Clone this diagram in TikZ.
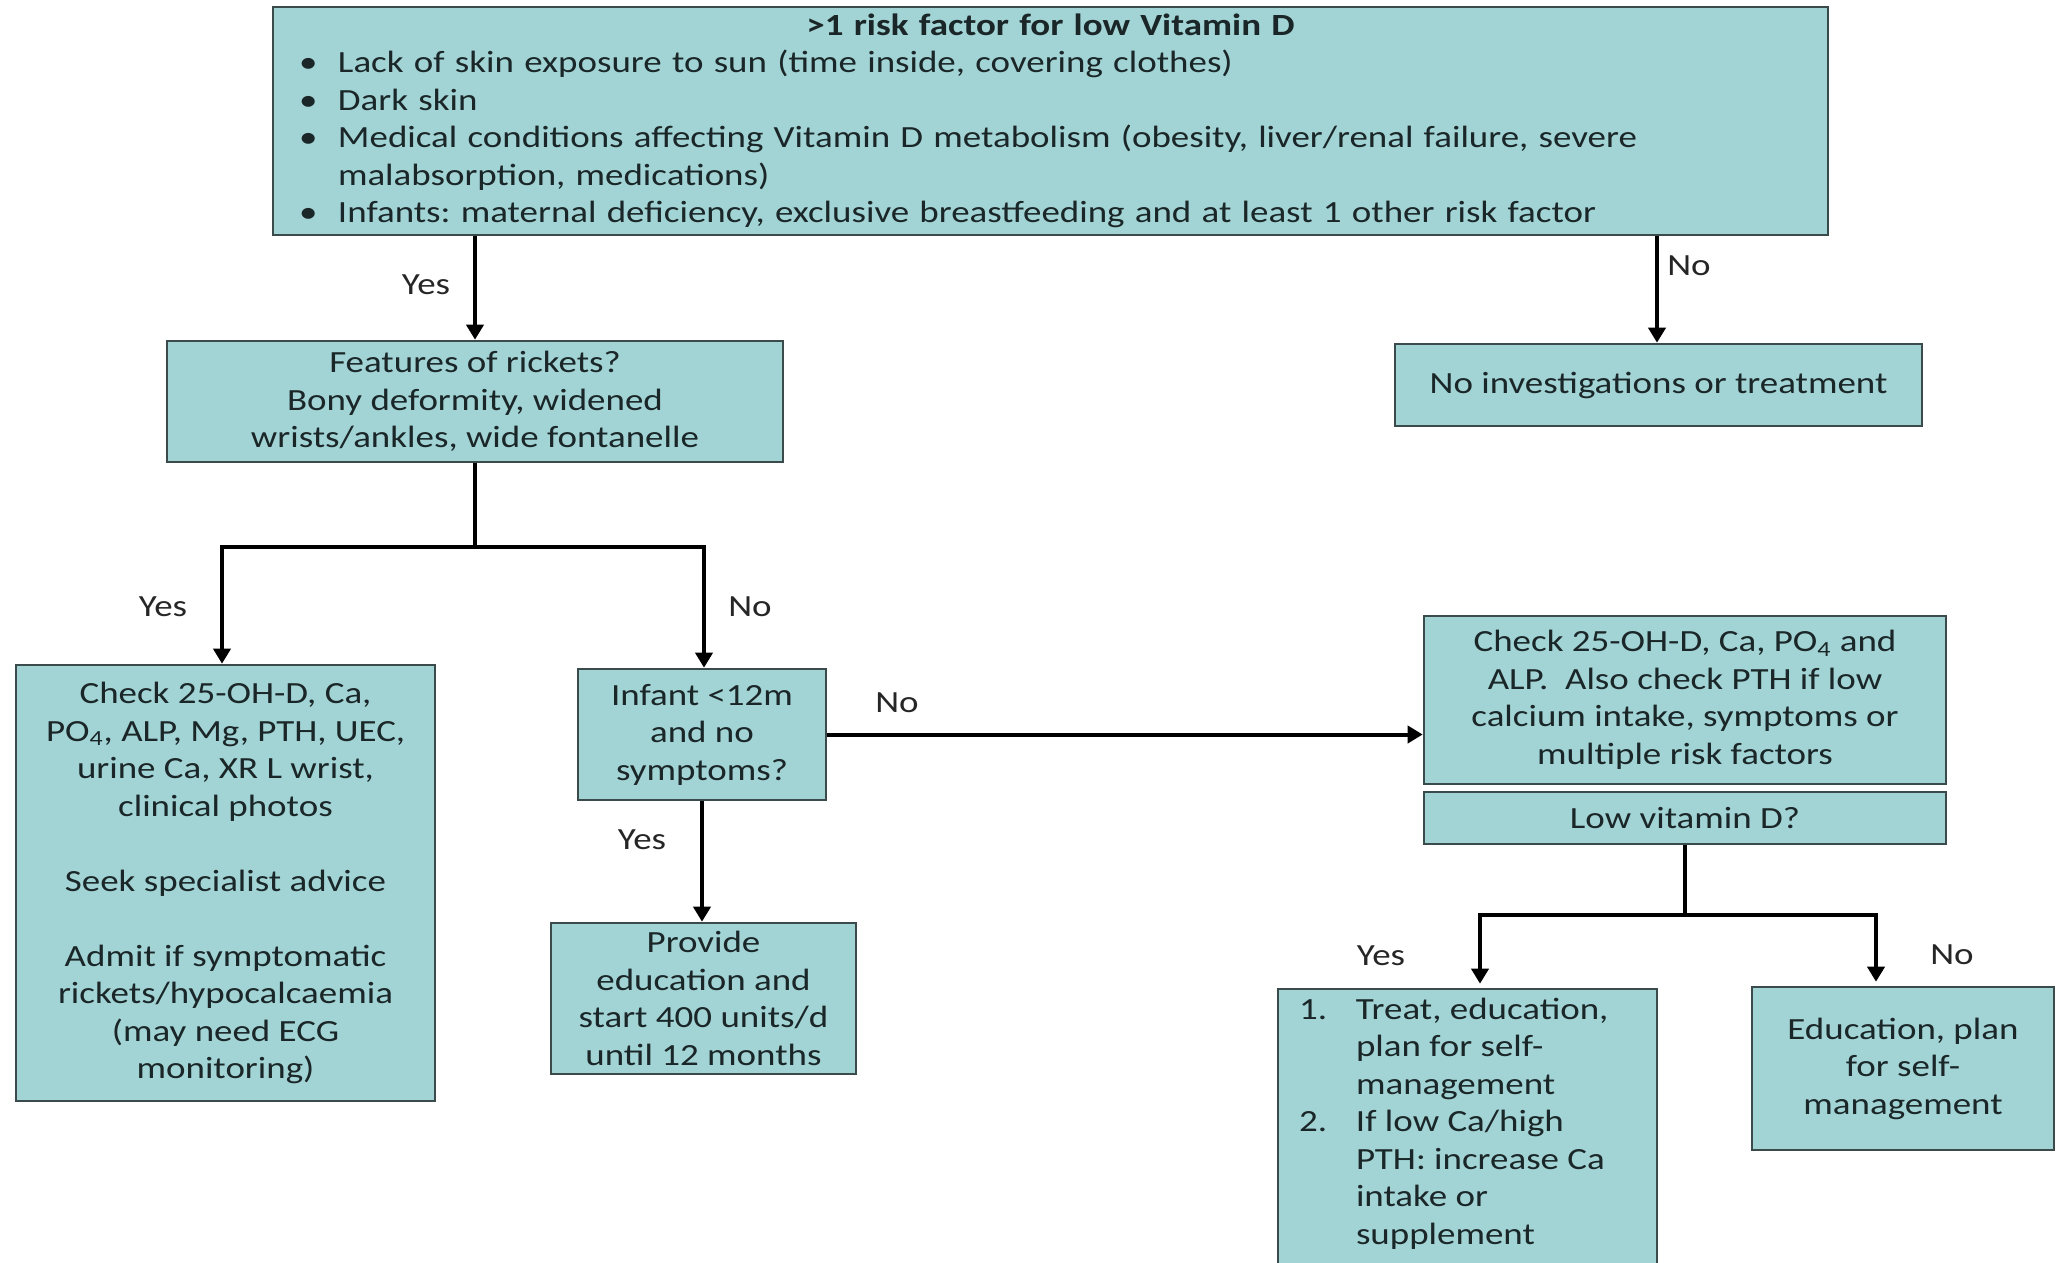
\documentclass[tikz,border=0pt]{standalone}
\usepackage{fontspec}
\setmainfont{Carlito}[FakeStretch=1.2]
\usetikzlibrary{arrows.meta,calc}
\definecolor{boxfill}{HTML}{A2D3D5}
\definecolor{boxline}{HTML}{3B4B4C}
\definecolor{txt}{HTML}{1A2627}
\frenchspacing
\begin{document}
\begin{tikzpicture}[x=0.5pt,y=-0.5pt,
 box/.style={draw=boxline,line width=1.3pt,fill=boxfill,inner sep=0pt,align=center,text=txt,font=\fontsize{15.4}{18.75}\selectfont},
 arr/.style={line width=2pt,-{Triangle[length=7.5pt,width=8.5pt]}},
 conn/.style={line width=2pt},
 lbl/.style={text=black!85,font=\fontsize{15.4}{18.75}\selectfont,inner sep=0pt}]
\useasboundingbox (0,0) rectangle (2056,1263);

\node[box,minimum width=777.5pt,minimum height=114pt,text width=777.5pt,align=left] (top) at (1050.5,121) {%
\makebox[777.5pt]{\bfseries >1 risk factor for low Vitamin D}\\
\hspace*{13pt}\makebox[19.5pt][l]{\textbullet}Lack of skin exposure to sun (time inside, covering clothes)\\
\hspace*{13pt}\makebox[19.5pt][l]{\textbullet}Dark skin\\
\hspace*{13pt}\makebox[19.5pt][l]{\textbullet}Medical conditions affecting Vitamin D metabolism (obesity, liver/renal failure, severe\\
\hspace*{32.5pt}malabsorption, medications)\\
\hspace*{13pt}\makebox[19.5pt][l]{\textbullet}Infants: maternal deficiency, exclusive breastfeeding and at least 1 other risk factor};

\node[box,minimum width=308pt,minimum height=60.5pt] (feat) at (475,401.5) {Features of rickets?\\Bony deformity, widened\\wrists/ankles, wide fontanelle};

\node[box,minimum width=263.5pt,minimum height=41pt] (noinv) at (1658.5,385) {No investigations or treatment};

\node[box,minimum width=209.5pt,minimum height=218pt] (left) at (225.5,883) {Check 25-OH-D, Ca,\\PO\textsubscript{4}, ALP, Mg, PTH, UEC,\\urine Ca, XR L wrist,\\clinical photos\\[18.75pt]Seek specialist advice\\[18.75pt]Admit if symptomatic\\rickets/hypocalcaemia\\(may need ECG\\monitoring)};

\node[box,minimum width=124pt,minimum height=65.5pt] (infant) at (702,734.5) {Infant <12m\\and no\\symptoms?};

\node[box,minimum width=152.5pt,minimum height=75.5pt] (provide) at (703.5,998.5) {Provide\\education and\\start 400 units/d\\until 12 months};

\node[box,minimum width=261pt,minimum height=84pt] (check) at (1685,700) {Check 25-OH-D, Ca, PO\textsubscript{4} and\\ALP.\ \ Also check PTH if low\\calcium intake, symptoms or\\multiple risk factors};

\node[box,minimum width=261pt,minimum height=26pt] (low) at (1685,818) {Low vitamin D?};

\node[box,minimum width=189.5pt,minimum height=150.5pt] (treat) at (1467.5,1139.5) {\parbox[c][150.5pt][t]{189.5pt}{\vspace*{2pt}\strut
\hspace*{10.5pt}\makebox[28.5pt][l]{1.}Treat, education,\\
\hspace*{39pt}plan for self-\\
\hspace*{39pt}management\\
\hspace*{10.5pt}\makebox[28.5pt][l]{2.}If low Ca/high\\
\hspace*{39pt}PTH: increase Ca\\
\hspace*{39pt}intake or\\
\hspace*{39pt}supplement}};

\node[box,minimum width=151pt,minimum height=81.5pt] (edu) at (1903,1068.5) {Education, plan\\for self-\\management};

\coordinate (j1) at (475,547);
\coordinate (j2) at (1685,915);

\draw[arr] (top.south -| feat.north) -- (feat.north);
\draw[arr] ([xshift=-0.75pt]top.south -| noinv.north) -- ([xshift=-0.75pt]noinv.north);
\draw[conn] (feat.south) -- (j1);
\draw[arr] (j1) -| ([xshift=-1.75pt]left.north);
\draw[arr] (j1) -| ([xshift=1pt]infant.north);
\draw[arr] (infant.east) -- (infant.east -| check.west);
\draw[arr] (infant.south) -- (provide.north -| infant.south);
\draw[conn] (low.south) -- (j2);
\draw[arr,shorten >=2pt] (j2) -| ([xshift=6.25pt]treat.north);
\draw[arr,shorten >=2pt] (j2) -| ([xshift=-13.5pt]edu.north);

\node[lbl] (l1) at (426,285) {Yes};
\node[lbl] (l2) at (1689,266) {No};
\node[lbl] (l3) at (163,607) {Yes};
\node[lbl] (l4) at (750,607) {No};
\node[lbl] (l5) at (897,703) {No};
\node[lbl] (l6) at (642,840) {Yes};
\node[lbl] (l7) at (1381,956) {Yes};
\node[lbl] (l8) at (1952,955) {No};
\end{tikzpicture}
\end{document}
